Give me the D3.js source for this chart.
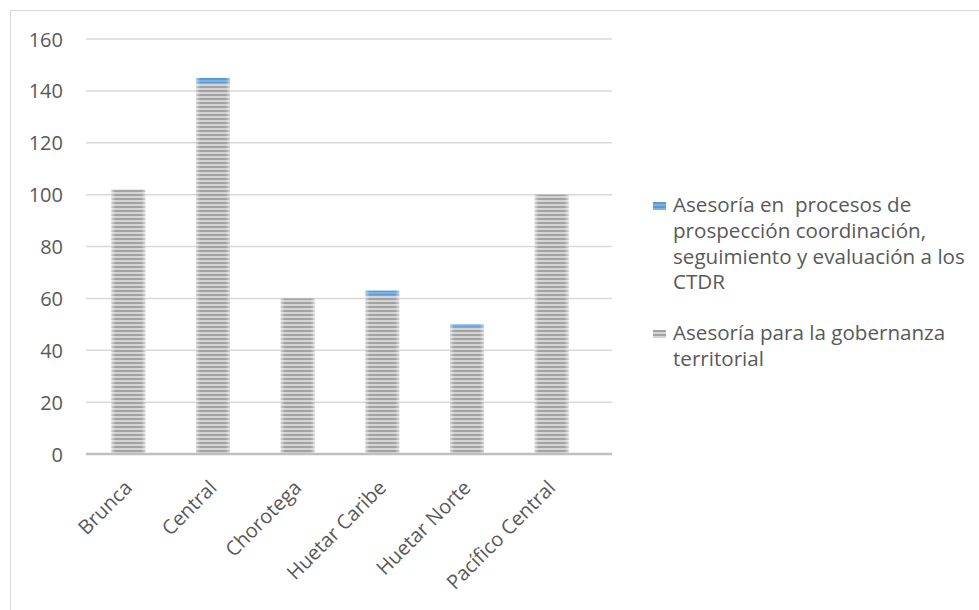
<!DOCTYPE html>
<html><head><meta charset="utf-8">
<script src="https://cdn.jsdelivr.net/npm/d3@7/dist/d3.min.js"></script>
<style>body{margin:0;background:#fff;}svg{display:block;font-family:"Open Sans",sans-serif;}text{white-space:pre;}</style>
</head><body><svg id="c" width="979" height="610"></svg>
<script>
const categories = ["Brunca","Central","Chorotega","Huetar Caribe","Huetar Norte","Pacífico Central"];
const gobernanza = [102,143,60,61,49,100];
const ctdr = [0,2,0,2,1,0];
const seriesNames = ["Asesoría en  procesos de prospección coordinación, seguimiento y evaluación a los CTDR","Asesoría para la gobernanza territorial"];
const legendLines = [["Asesoría en  procesos de","prospección coordinación,","seguimiento y evaluación a los","CTDR"],["Asesoría para la gobernanza","territorial"]];
const yTicks = [0,20,40,60,80,100,120,140,160];

const FONT = "'Open Sans',sans-serif";
const FS = "20px";
const LFS = "20.6px";
const svg = d3.select("#c");
const defs = svg.append("defs");
function stripe(id, dark, light){
  const p = defs.append("pattern").attr("id",id).attr("patternUnits","userSpaceOnUse").attr("width",8).attr("height",4);
  p.append("rect").attr("width",8).attr("height",4).attr("fill",light);
  p.append("rect").attr("y",2).attr("width",8).attr("height",2).attr("fill",dark);
}
stripe("pg","#a3a3a3","#d4d4d4");
stripe("pb","#5b9bd5","#7fb0e0");
const eg = defs.append("linearGradient").attr("id","edge");
eg.append("stop").attr("offset","0").attr("stop-color","#fff").attr("stop-opacity",0.5);
eg.append("stop").attr("offset","0.12").attr("stop-color","#fff").attr("stop-opacity",0);
eg.append("stop").attr("offset","0.88").attr("stop-color","#fff").attr("stop-opacity",0);
eg.append("stop").attr("offset","1").attr("stop-color","#fff").attr("stop-opacity",0.5);

// chart border (top + left visible)
svg.append("rect").attr("x",10.5).attr("y",10.5).attr("width",1000).attr("height",1000)
  .attr("fill","none").attr("stroke","#d9d9d9").attr("stroke-width",1);

const x = d3.scaleBand().domain(categories).range([86,594]).paddingInner(0.6).paddingOuter(0.3);
const y = d3.scaleLinear().domain([0,160]).range([454,39]);

// gridlines
svg.append("g").selectAll("line").data(yTicks.filter(d=>d>0)).join("line")
  .attr("x1",86).attr("x2",612).attr("y1",d=>y(d)).attr("y2",d=>y(d))
  .attr("stroke","#d9d9d9").attr("stroke-width",1.5);

// y axis labels
const yAxis = d3.axisLeft(y).tickValues(yTicks).tickSize(0).tickPadding(0);
const yg = svg.append("g").attr("transform","translate(63,0)").call(yAxis);
yg.select(".domain").remove();
yg.selectAll("text").attr("fill","#595959").style("font-size",FS).style("font-family",FONT).attr("dy","0.35em");

// bars
const data = categories.map((c,i)=>({c, g:gobernanza[i], b:ctdr[i]}));
const bg = svg.append("g");
data.forEach(d=>{
  const xx = x(d.c), w = x.bandwidth();
  bg.append("rect").attr("x",xx).attr("width",w).attr("y",y(d.g)).attr("height",y(0)-y(d.g)).attr("fill","url(#pg)");
  if(d.b>0){
    bg.append("rect").attr("x",xx).attr("width",w).attr("y",y(d.g+d.b)).attr("height",y(d.g)-y(d.g+d.b)).attr("fill","url(#pb)");
  }
  bg.append("rect").attr("x",xx).attr("width",w).attr("y",y(d.g+d.b)).attr("height",y(0)-y(d.g+d.b)).attr("fill","url(#edge)");
});

// x axis line
svg.append("line").attr("x1",86).attr("x2",612).attr("y1",y(0)).attr("y2",y(0))
  .attr("stroke","#bfbfbf").attr("stroke-width",2.5);

// x labels
const xAxis = d3.axisBottom(x).tickSize(0).tickPadding(0);
const xg = svg.append("g").attr("transform",`translate(0,${y(0)})`).call(xAxis);
xg.select(".domain").remove();
xg.selectAll("text").attr("fill","#595959").style("font-size",FS).style("font-family",FONT)
  .attr("text-anchor","end").attr("dy",0).attr("y",0)
  .attr("transform","translate(5,35) rotate(-45)");

// legend
const lg = svg.append("g");
const entries = [{fill:"url(#pb)", lines:legendLines[0], y0:205},{fill:"url(#pg)", lines:legendLines[1], y0:333}];
entries.forEach(e=>{
  lg.append("rect").attr("x",653).attr("y",e.y0-3).attr("width",13).attr("height",8).attr("fill",e.fill);
  const t = lg.append("text").attr("x",673).attr("y",e.y0).attr("fill","#595959").style("font-size",LFS).style("font-family",FONT);
  e.lines.forEach((l,i)=>t.append("tspan").attr("x",673).attr("dy",i===0?"0.35em":"25.7px").text(l));
});
</script></body></html>
